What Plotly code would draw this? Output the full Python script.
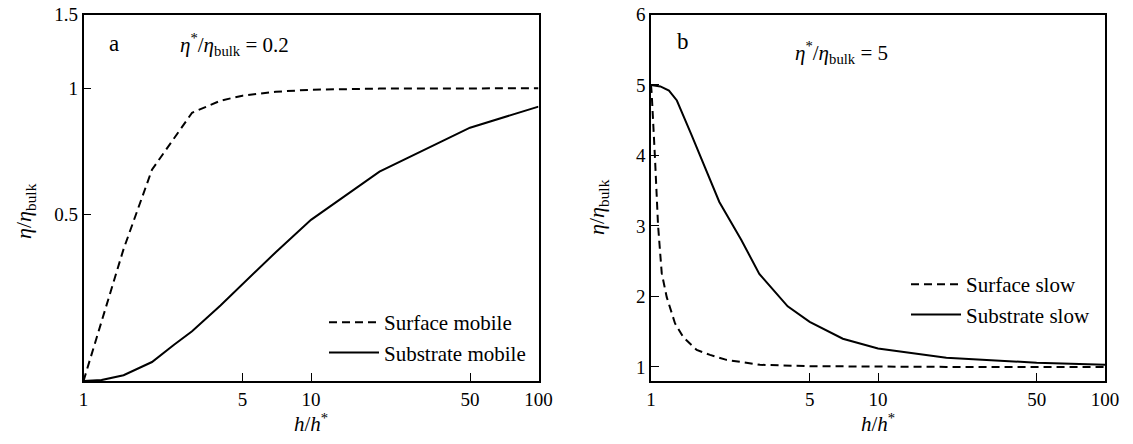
import plotly.graph_objects as go

# ---- data ----
h_a = [1, 1.2, 1.5, 2, 2.5, 3, 4, 5, 7, 10, 20, 50, 100]
surface_mobile = [0.2, 0.278, 0.413, 0.639, 0.762, 0.874, 0.934, 0.96, 0.981, 0.992, 0.998, 1.0, 1.0]
substrate_mobile = [0.2, 0.201, 0.2065, 0.222, 0.244, 0.263, 0.303, 0.341, 0.406, 0.485, 0.632, 0.805, 0.904]

h_surf_b = [1, 1.007, 1.041, 1.074, 1.115, 1.173, 1.275, 1.388, 1.59, 1.82, 2.15, 3.02, 5, 10, 20, 50, 100]
surface_slow = [5.0, 4.88, 3.97, 3.01, 2.33, 1.99, 1.62, 1.42, 1.24, 1.17, 1.10, 1.03, 1.01, 1.0, 1.0, 1.0, 1.0]
h_sub_b = [1, 1.1, 1.2, 1.3, 1.5, 2, 2.5, 3, 4, 5, 7, 10, 20, 50, 100]
substrate_slow = [5.0, 4.98, 4.92, 4.78, 4.31, 3.34, 2.80, 2.32, 1.86, 1.64, 1.40, 1.26, 1.13, 1.06, 1.03]

x_ticks = [1, 5, 10, 50, 100]
x_ticktext = ["1", "5", "10", "50", "100"]
ya_ticks = [0.5, 1, 1.5]
ya_ticktext = ["0.5", "1", "1.5"]
yb_ticks = [1, 2, 3, 4, 5, 6]

FONT = "Liberation Serif, Times New Roman, Times, serif"
W, H = 1133, 444

fig = go.Figure()
dash = "8px,5px"
fig.add_trace(go.Scatter(x=h_a, y=surface_mobile, mode="lines", name="Surface mobile",
                         line=dict(color="black", width=2, dash=dash), xaxis="x", yaxis="y", legend="legend"))
fig.add_trace(go.Scatter(x=h_a, y=substrate_mobile, mode="lines", name="Substrate mobile",
                         line=dict(color="black", width=2), xaxis="x", yaxis="y", legend="legend"))
fig.add_trace(go.Scatter(x=h_surf_b, y=surface_slow, mode="lines", name="Surface slow",
                         line=dict(color="black", width=2, dash=dash), xaxis="x2", yaxis="y2", legend="legend2"))
fig.add_trace(go.Scatter(x=h_sub_b, y=substrate_slow, mode="lines", name="Substrate slow",
                         line=dict(color="black", width=2), xaxis="x2", yaxis="y2", legend="legend2"))

def px_x(p):
    return p / W

def px_y(p):
    return 1 - p / H

axis_common = dict(showline=True, linecolor="black", linewidth=1.5, mirror=True,
                   ticks="inside", ticklen=8, tickwidth=1.2, tickcolor="black",
                   showgrid=False, zeroline=False, automargin=False,
                   tickfont=dict(family=FONT, size=19, color="black"))

xtitle = dict(text="<i>h</i>/<i>h</i><sup>*</sup>", font=dict(family=FONT, size=21, color="black"), standoff=5)
ytitle_text = "<i>η</i>/<i>η</i><sub>bulk</sub>"

fig.update_layout(
    template="none",
    width=W, height=H,
    margin=dict(l=0, r=0, t=0, b=0, pad=0),
    paper_bgcolor="white", plot_bgcolor="white",
    font=dict(family=FONT, size=19, color="black"),
    xaxis=dict(type="log", range=[0, 2], domain=[px_x(83.5), px_x(538.5)], anchor="y",
               tickvals=x_ticks, ticktext=x_ticktext, title=xtitle, **axis_common),
    yaxis=dict(type="log", range=[-0.69897, 0.176091], domain=[px_y(381), px_y(14.5)], anchor="x",
               tickvals=ya_ticks, ticktext=ya_ticktext, **axis_common),
    xaxis2=dict(type="log", range=[0, 2], domain=[px_x(651), px_x(1105)], anchor="y2",
                tickvals=x_ticks, ticktext=x_ticktext, title=xtitle, **axis_common),
    yaxis2=dict(range=[0.8, 6], domain=[px_y(381), px_y(14.5)], anchor="x2",
                tickvals=yb_ticks, **axis_common),
    legend=dict(x=px_x(324), y=px_y(302), xanchor="left", yanchor="top",
                bgcolor="rgba(0,0,0,0)", borderwidth=0, font=dict(family=FONT, size=21, color="black"),
                tracegroupgap=0, itemwidth=50),
    legend2=dict(x=px_x(906), y=px_y(264), xanchor="left", yanchor="top",
                 bgcolor="rgba(0,0,0,0)", borderwidth=0, font=dict(family=FONT, size=21, color="black"),
                 tracegroupgap=0, itemwidth=50),
    showlegend=True,
    annotations=[
        dict(text="a", x=px_x(114), y=px_y(44), xref="paper", yref="paper", showarrow=False,
             xanchor="center", yanchor="middle",
             font=dict(family=FONT, size=23, color="black")),
        dict(text="<i>η</i><sup>*</sup>/<i>η</i><sub>bulk</sub> = 0.2", x=px_x(178), y=px_y(45),
             xref="paper", yref="paper", xanchor="left", yanchor="middle", showarrow=False,
             font=dict(family=FONT, size=21, color="black")),
        dict(text="b", x=px_x(683), y=px_y(41), xref="paper", yref="paper", showarrow=False,
             xanchor="center", yanchor="middle",
             font=dict(family=FONT, size=23, color="black")),
        dict(text="<i>η</i><sup>*</sup>/<i>η</i><sub>bulk</sub> = 5", x=px_x(793), y=px_y(52),
             xref="paper", yref="paper", xanchor="left", yanchor="middle", showarrow=False,
             font=dict(family=FONT, size=21, color="black")),
        dict(text=ytitle_text, x=px_x(25), y=px_y(211), xref="paper", yref="paper", showarrow=False,
             textangle=-90, xanchor="center", yanchor="middle",
             font=dict(family=FONT, size=22, color="black")),
        dict(text=ytitle_text, x=px_x(598), y=px_y(207), xref="paper", yref="paper", showarrow=False,
             textangle=-90, xanchor="center", yanchor="middle",
             font=dict(family=FONT, size=22, color="black")),
    ],
)

fig.write_html("out.html")
